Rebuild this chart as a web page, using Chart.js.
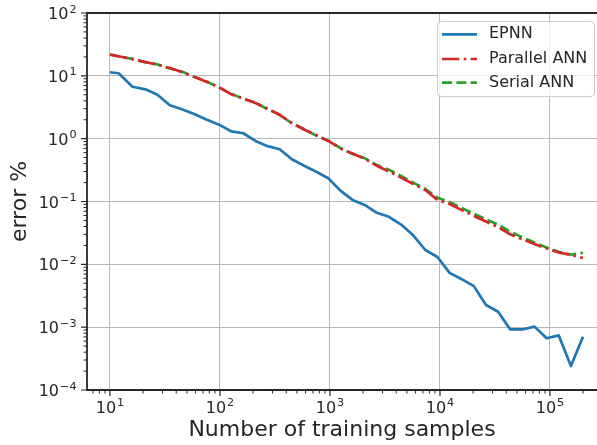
<!DOCTYPE html>
<html>
<head>
<meta charset="utf-8">
<script src="https://cdn.jsdelivr.net/npm/chart.js@4"></script>
<style>
  html, body { margin: 0; padding: 0; background: #fff; overflow: hidden; }
  canvas { display: block; }
</style>
</head>
<body>
<canvas id="errorChart" width="597" height="445"></canvas>
<script>
// training set sizes (log spaced)
const samples = [10, 12, 16, 21, 27, 35, 45, 59, 76, 98, 126, 163, 210, 271, 349, 450, 581, 749, 965, 1244,
  1603, 2067, 2665, 3435, 4429, 5709, 7360, 9482, 12224, 15758, 20313, 26185, 33755, 43513, 56093, 72309,
  93211, 120159, 154896, 199526];

// error % per model
const epnnError = [11.4, 11.0, 6.7, 6.1, 5.0, 3.4, 2.93, 2.44, 2.0, 1.67, 1.31, 1.22, 0.92, 0.76, 0.68, 0.47,
  0.37, 0.298, 0.234, 0.149, 0.106, 0.088, 0.066, 0.057, 0.043, 0.029, 0.0169, 0.0131, 0.0073, 0.0058, 0.0045,
  0.00225, 0.00176, 0.00092, 0.00092, 0.00102, 0.000665, 0.00074, 0.000241, 0.000705];
const parallelError = [21.8, 20.5, 18.4, 16.6, 15.0, 13.3, 11.5, 9.6, 8.0, 6.6, 5.1, 4.36, 3.7, 3.0, 2.38, 1.78,
  1.40, 1.14, 0.92, 0.70, 0.58, 0.48, 0.37, 0.30, 0.24, 0.19, 0.152, 0.106, 0.091, 0.073, 0.059, 0.048, 0.039,
  0.030, 0.025, 0.021, 0.0179, 0.0154, 0.0141, 0.0126];
const serialError = [22.0, 20.3, 18.6, 16.4, 15.2, 13.1, 11.7, 9.5, 8.1, 6.5, 5.2, 4.3, 3.75, 2.95, 2.42, 1.75,
  1.42, 1.12, 0.93, 0.71, 0.57, 0.49, 0.38, 0.32, 0.255, 0.20, 0.158, 0.115, 0.098, 0.079, 0.064, 0.052, 0.043,
  0.033, 0.027, 0.0222, 0.0185, 0.0158, 0.0143, 0.0153];

// decade ticks
const xDecades = [1e1, 1e2, 1e3, 1e4, 1e5];
const yDecades = [1e-4, 1e-3, 1e-2, 1e-1, 1e0, 1e1, 1e2];

const FONT = '"DejaVu Sans", "Liberation Sans", sans-serif';
const INK = '#262626';
const LW = 2.7;

function points(ys) {
  return samples.map((n, i) => ({ x: n, y: ys[i] }));
}

// "10" with a raised exponent, like a mathtext label
function drawPow(ctx, exp, x, y, align) {
  const base = '10';
  const sup = exp < 0 ? '\u2212' + (-exp) : String(exp);
  ctx.font = '16px ' + FONT;
  const wb = ctx.measureText(base).width;
  ctx.font = '11.2px ' + FONT;
  const ws = ctx.measureText(sup).width;
  const total = wb + 1 + ws;
  const x0 = align === 'right' ? x - total : x - total / 2;
  ctx.textAlign = 'left';
  ctx.textBaseline = 'alphabetic';
  ctx.fillStyle = INK;
  ctx.font = '16px ' + FONT;
  ctx.fillText(base, x0, y);
  ctx.font = '11.2px ' + FONT;
  ctx.fillText(sup, x0 + wb + 1, y - 6.5);
}

function minorValues(scale) {
  const out = [];
  for (let e = -6; e <= 6; e++) {
    for (let m = 2; m <= 9; m++) {
      const v = m * Math.pow(10, e);
      if (v >= scale.min && v <= scale.max) out.push(v);
    }
  }
  return out;
}

const axesDecor = {
  id: 'axesDecor',
  afterDatasetsDraw(chart) {
    const { ctx, chartArea: a, scales: { x, y } } = chart;
    ctx.save();

    // spines
    ctx.strokeStyle = INK;
    ctx.lineWidth = 1.8;
    ctx.beginPath();
    ctx.moveTo(a.right + 2, a.top);
    ctx.lineTo(a.left, a.top);
    ctx.lineTo(a.left, a.bottom);
    ctx.lineTo(a.right + 2, a.bottom);
    ctx.stroke();

    // tick marks
    ctx.lineWidth = 1.2;
    ctx.beginPath();
    xDecades.forEach(v => {
      const px = x.getPixelForValue(v);
      ctx.moveTo(px, a.bottom); ctx.lineTo(px, a.bottom + 6);
    });
    yDecades.forEach(v => {
      const py = y.getPixelForValue(v);
      ctx.moveTo(a.left, py); ctx.lineTo(a.left - 6, py);
    });
    ctx.stroke();
    ctx.lineWidth = 1;
    ctx.beginPath();
    minorValues(x).forEach(v => {
      const px = x.getPixelForValue(v);
      ctx.moveTo(px, a.bottom); ctx.lineTo(px, a.bottom + 3.5);
    });
    minorValues(y).forEach(v => {
      const py = y.getPixelForValue(v);
      ctx.moveTo(a.left, py); ctx.lineTo(a.left - 3.5, py);
    });
    ctx.stroke();

    // tick labels
    xDecades.forEach(v => drawPow(ctx, Math.round(Math.log10(v)), x.getPixelForValue(v), 412.5, 'center'));
    yDecades.forEach(v => drawPow(ctx, Math.round(Math.log10(v)), 76.5, y.getPixelForValue(v) + 6, 'right'));

    // legend box
    const bx = 437.5, by = 21.5, bw = 157, bh = 75;
    ctx.beginPath();
    ctx.roundRect(bx, by, bw, bh, 4);
    ctx.fillStyle = 'rgba(255,255,255,0.8)';
    ctx.fill();
    ctx.strokeStyle = '#cccccc';
    ctx.lineWidth = 1;
    ctx.stroke();

    const rows = [34.3, 59, 82.7];
    chart.data.datasets.forEach((ds, i) => {
      const ry = rows[i];
      ctx.beginPath();
      ctx.strokeStyle = ds.borderColor;
      ctx.lineWidth = ds.borderWidth;
      ctx.lineCap = 'butt';
      ctx.setLineDash(ds.borderDash || []);
      ctx.moveTo(442, ry);
      ctx.lineTo(477, ry);
      ctx.stroke();
      ctx.setLineDash([]);
      ctx.fillStyle = INK;
      ctx.font = '16px ' + FONT;
      ctx.textAlign = 'left';
      ctx.textBaseline = 'middle';
      ctx.fillText(ds.label, 489, ry);
    });

    ctx.restore();
  }
};

const ctx = document.getElementById('errorChart').getContext('2d');
const errorChart = new Chart(ctx, {
  type: 'line',
  data: {
    datasets: [{
      label: 'EPNN',
      data: points(epnnError),
      borderColor: '#1f77b4',
      borderWidth: LW,
      borderJoinStyle: 'round',
      pointRadius: 0,
      tension: 0
    }, {
      label: 'Parallel ANN',
      data: points(parallelError),
      borderColor: '#d62728',
      borderWidth: LW,
      borderDash: [6.4 * LW, 1.6 * LW, 1 * LW, 1.6 * LW],
      borderJoinStyle: 'round',
      pointRadius: 0,
      tension: 0
    }, {
      label: 'Serial ANN',
      data: points(serialError),
      borderColor: '#2ca02c',
      borderWidth: LW,
      borderDash: [3.7 * LW, 1.6 * LW],
      borderJoinStyle: 'round',
      pointRadius: 0,
      tension: 0
    }]
  },
  options: {
    responsive: false,
    animation: false,
    devicePixelRatio: 1,
    layout: { padding: { top: 13, right: 0, left: 0, bottom: 0 } },
    plugins: {
      legend: { display: false },
      tooltip: { enabled: false }
    },
    scales: {
      x: {
        type: 'logarithmic',
        min: 6.18,
        max: 2.675e5,
        afterBuildTicks: (scale) => { scale.ticks = xDecades.map(v => ({ value: v })); },
        afterFit: (scale) => { scale.height = 55; },
        ticks: { display: false },
        grid: { color: '#b8b8b8', lineWidth: 1, drawTicks: false },
        border: { display: false },
        title: {
          display: true,
          text: 'Number of training samples',
          color: INK,
          font: { family: FONT, size: 22 },
          padding: { top: 0, bottom: 1.5 }
        }
      },
      y: {
        type: 'logarithmic',
        min: 1e-4,
        max: 1e2,
        afterBuildTicks: (scale) => { scale.ticks = yDecades.map(v => ({ value: v })); },
        afterFit: (scale) => { scale.width = 87; },
        ticks: { display: false },
        grid: { color: '#b8b8b8', lineWidth: 1, drawTicks: false },
        border: { display: false },
        title: {
          display: true,
          text: 'error %',
          color: INK,
          font: { family: FONT, size: 22 },
          padding: { top: 7, bottom: 0 }
        }
      }
    }
  },
  plugins: [axesDecor]
});
</script>
</body>
</html>
